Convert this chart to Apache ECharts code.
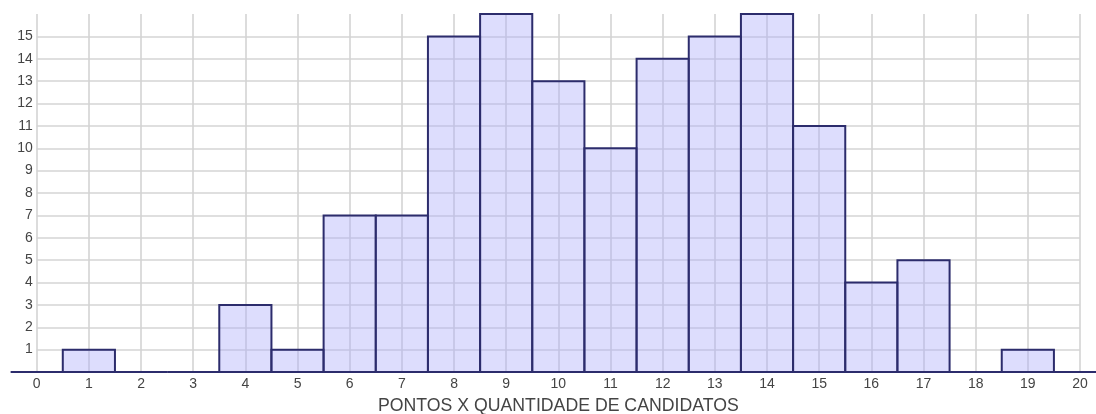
<!DOCTYPE html>
<html><head><meta charset="utf-8">
<script src="https://cdn.jsdelivr.net/npm/echarts@6/dist/echarts.min.js"></script>
<style>html,body{margin:0;padding:0;background:#fff}#c{width:1096px;height:414px}</style>
</head><body><div id="c"></div>
<script>
const pontos = [0,1,2,3,4,5,6,7,8,9,10,11,12,13,14,15,16,17,18,19,20];
const candidatos = [0,1,0,0,3,1,7,7,15,16,13,10,14,15,16,11,4,5,0,1,0];
const xTitle = 'PONTOS X QUANTIDADE DE CANDIDATOS';

const chart = echarts.init(document.getElementById('c'), null, {renderer:'canvas'});
const font = '"Liberation Sans", Arial, sans-serif';
chart.setOption({
  animation:false,
  grid:{left:36.7, right:16, top:14, bottom:42, containLabel:false, outerBoundsMode:'none'},
  xAxis:{type:'value', min:0, max:20, interval:1,
    axisLine:{show:false}, axisTick:{show:false},
    axisLabel:{color:'#444', fontSize:14, fontFamily:font, margin:5, showMinLabel:true, showMaxLabel:true},
    splitLine:{show:true, lineStyle:{color:'#d4d4d4', width:1.6}},
    name:xTitle, nameLocation:'middle', nameGap:25,
    nameTextStyle:{color:'#444', fontSize:17.7, fontFamily:font}},
  yAxis:{type:'value', min:0, max:16, interval:1,
    axisLine:{show:false}, axisTick:{show:false},
    axisLabel:{color:'#444', fontSize:14, fontFamily:font, margin:4,
      formatter:v=> (v===0||v===16)?'':String(v)},
    splitLine:{show:true, showMinLine:false, showMaxLine:false, lineStyle:{color:'#d4d4d4', width:1.6}}},
  series:[{type:'custom', clip:false,
    data: pontos.map((p,i)=>[p, candidatos[i]]),
    renderItem:(params, api)=>{
      const x = api.value(0), y = api.value(1);
      const p0 = api.coord([x-0.5, 0]);
      const p1 = api.coord([x+0.5, y]);
      return {type:'rect', shape:{x:p0[0], y:p1[1], width:p1[0]-p0[0], height:p0[1]-p1[1]},
        style:{fill:'rgba(170,170,250,0.4)', stroke:'#2c2c6c', lineWidth:2}};
    }}]
});
</script></body></html>
